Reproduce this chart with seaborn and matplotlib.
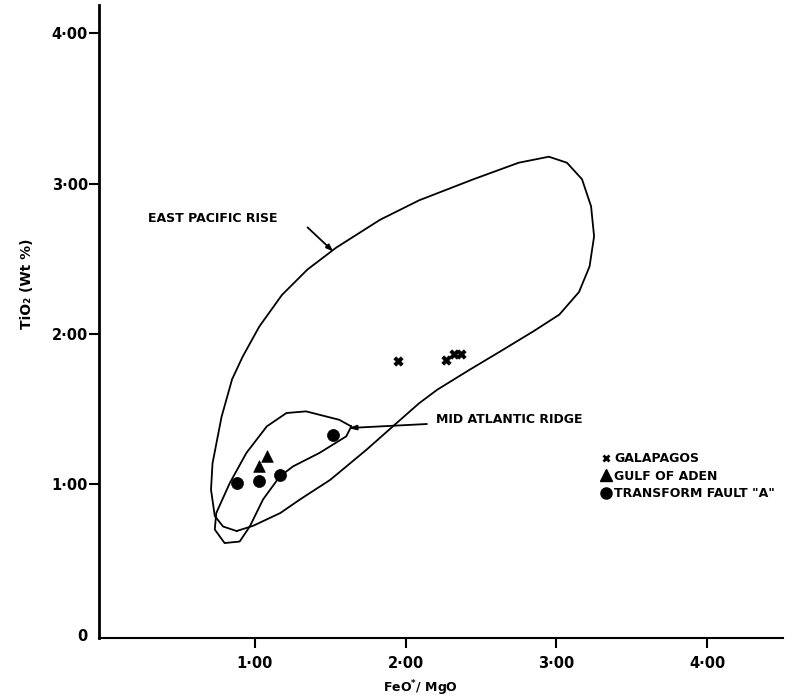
import numpy as np
import pandas as pd
import matplotlib
matplotlib.use("Agg")
import matplotlib.pyplot as plt
from matplotlib.lines import Line2D
import seaborn as sns

# sample points (FeO*/MgO, TiO2 wt%)
gal_x = [1.95, 2.27, 2.32, 2.37]
gal_y = [1.82, 1.83, 1.87, 1.87]
aden_x = [1.03, 1.08]
aden_y = [1.12, 1.19]
tf_x = [0.88, 1.03, 1.17, 1.52]
tf_y = [1.01, 1.02, 1.06, 1.33]

# field outlines
epr_x = [0.88, 0.99, 1.17, 1.30, 1.50, 1.74, 1.92, 2.09, 2.21, 2.42, 2.62, 2.85, 3.02,
         3.15, 3.22, 3.25, 3.23, 3.17, 3.07, 2.95, 2.75, 2.45, 2.09, 1.83, 1.54, 1.35,
         1.18, 1.03, 0.92, 0.85, 0.78, 0.72, 0.71, 0.735, 0.79, 0.88]
epr_y = [0.69, 0.725, 0.81, 0.90, 1.03, 1.23, 1.39, 1.54, 1.63, 1.76, 1.88, 2.02, 2.13,
         2.28, 2.45, 2.65, 2.85, 3.03, 3.14, 3.18, 3.14, 3.03, 2.89, 2.76, 2.575, 2.43,
         2.26, 2.05, 1.85, 1.70, 1.45, 1.14, 0.965, 0.79, 0.72, 0.69]
mar_x = [1.64, 1.56, 1.34, 1.21, 1.08, 0.945, 0.835, 0.745, 0.735, 0.80, 0.90, 0.967,
         1.055, 1.166, 1.254, 1.43, 1.607, 1.64]
mar_y = [1.386, 1.43, 1.486, 1.475, 1.386, 1.21, 1.01, 0.81, 0.70, 0.61, 0.62, 0.72,
         0.90, 1.053, 1.12, 1.21, 1.32, 1.386]

x_ticks = [1, 2, 3, 4]
x_labels = ["1·00", "2·00", "3·00", "4·00"]
y_ticks = [0, 1, 2, 3, 4]
y_labels = ["0", "1·00", "2·00", "3·00", "4·00"]

df = pd.DataFrame({
    "ratio": gal_x + aden_x + tf_x,
    "tio2": gal_y + aden_y + tf_y,
    "group": ["GALAPAGOS"] * len(gal_x) + ["GULF OF ADEN"] * len(aden_x)
             + ['TRANSFORM FAULT "A"'] * len(tf_x),
})

sns.set_style("ticks")
plt.rcParams["font.family"] = ["DejaVu Sans"]
plt.rcParams["font.weight"] = "bold"
plt.rcParams["mathtext.default"] = "bf"
plt.rcParams["text.color"] = "black"
plt.rcParams["axes.labelcolor"] = "black"

fig = plt.figure(figsize=(8.11, 6.97), dpi=100)
ax = fig.add_axes([0.122, 0.085, 0.843, 0.908])

ax.plot(epr_x, epr_y, color="black", lw=1.3)
ax.plot(mar_x, mar_y, color="black", lw=1.3)

marks = {"GALAPAGOS": "X", "GULF OF ADEN": "^", 'TRANSFORM FAULT "A"': "o"}
sizes = {"GALAPAGOS": 45, "GULF OF ADEN": 70, 'TRANSFORM FAULT "A"': 75}
for g, sub in df.groupby("group"):
    sns.scatterplot(data=sub, x="ratio", y="tio2", marker=marks[g], s=sizes[g],
                    color="black", edgecolor="black", linewidth=0.5, ax=ax, legend=False)

ax.text(0.29, 2.77, "EAST PACIFIC RISE", fontsize=9, fontweight="bold", va="center",
        color="black")
ax.annotate("", xy=(1.52, 2.55), xytext=(1.35, 2.71),
            arrowprops=dict(arrowstyle="-|>,head_length=0.4,head_width=0.15",
                            color="black", lw=1.3, shrinkA=0, shrinkB=0))
ax.annotate("MID ATLANTIC RIDGE", xy=(1.62, 1.375), xytext=(2.2, 1.43),
            fontsize=9, fontweight="bold", va="center", color="black",
            arrowprops=dict(arrowstyle="-|>,head_length=0.5,head_width=0.15",
                            color="black", lw=1.3, shrinkA=4, shrinkB=0))

handles = [
    Line2D([], [], ls="none", marker="x", ms=5, mew=2, color="black"),
    Line2D([], [], ls="none", marker="^", ms=8, color="black"),
    Line2D([], [], ls="none", marker="o", ms=8, color="black"),
]
ax.legend(handles, list(marks.keys()), loc="upper left", bbox_to_anchor=(0.735, 0.293),
          frameon=False, handlelength=0.7, handletextpad=0.3, labelspacing=0.35,
          borderpad=0, borderaxespad=0, labelcolor="black",
          prop={"size": 9, "weight": "bold"})

ax.set_xlim(-0.033, 4.5)
ax.set_ylim(-0.02, 4.19)
ax.set_xticks(x_ticks, x_labels)
ax.set_yticks(y_ticks, y_labels)
ax.yaxis.get_major_ticks()[0].tick1line.set_visible(False)
ax.tick_params(axis="both", direction="out", length=7, width=1.5, color="black",
               labelsize=10.5, labelcolor="black")
ax.tick_params(axis="x", pad=6)
ax.tick_params(axis="y", pad=1)
for lbl in ax.get_xticklabels() + ax.get_yticklabels():
    lbl.set_fontweight("bold")

ax.set_xlabel(r"FeO$^{*}$/ MgO", fontsize=9, fontweight="bold", color="black")
ax.set_ylabel("TiO₂ (Wt %)", fontsize=10, fontweight="bold", color="black")
ax.xaxis.set_label_coords(0.47, -0.064)
ax.yaxis.set_label_coords(-0.095, 0.56)

sns.despine(ax=ax)
ax.spines["left"].set_linewidth(2)
ax.spines["bottom"].set_linewidth(1.5)
ax.spines["left"].set_color("black")
ax.spines["bottom"].set_color("black")

fig.savefig("out.png", dpi=100)
